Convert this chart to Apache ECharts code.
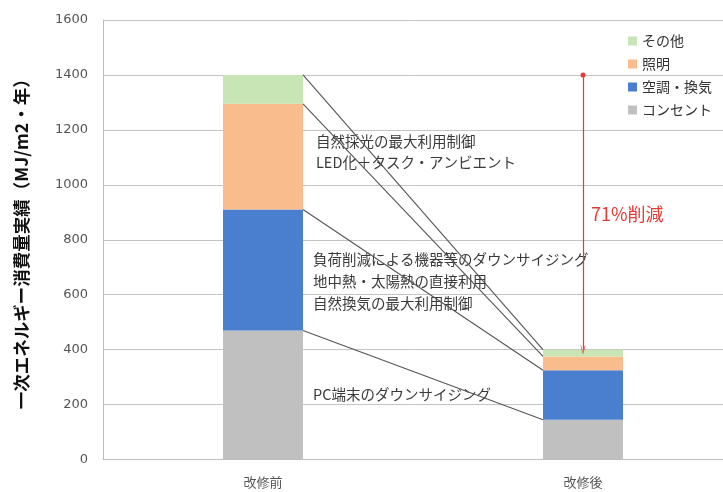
<!DOCTYPE html>
<html>
<head>
<meta charset="utf-8">
<script src="https://cdn.jsdelivr.net/npm/echarts@6/dist/echarts.min.js"></script>
<style>
  html, body { margin: 0; padding: 0; background: #fff; }
  #chart { width: 723px; height: 492px; }
</style>
</head>
<body>
<div id="chart"></div>
<script>
// 改修前後の一次エネルギー消費量（MJ/m2・年）
const categories = ['改修前', '改修後'];
const seriesNames = ['コンセント', '空調・換気', '照明', 'その他'];
const outlet = [470, 145];
const hvac = [440, 180];
const lighting = [385, 50];
const others = [105, 25];
const yTicks = { min: 0, max: 1600, interval: 200 };

const measures = [
  { text: '自然採光の最大利用制御', x: 316, y: 143 },
  { text: 'LED化＋タスク・アンビエント', x: 316, y: 164 },
  { text: '負荷削減による機器等のダウンサイジング', x: 313, y: 261 },
  { text: '地中熱・太陽熱の直接利用', x: 313, y: 283 },
  { text: '自然換気の最大利用制御', x: 313, y: 305 },
  { text: 'PC端末のダウンサイジング', x: 313, y: 396 }
];

const colors = ['#c0c0c0', '#4a7fd0', '#f9bd8d', '#c8e5b6'];
const values = [outlet, hvac, lighting, others];

// 各区分の累積上端（接続線用）
const tops = values.map((_, k) =>
  categories.map((_, i) => values.slice(0, k + 1).reduce((s, arr) => s + arr[i], 0))
);
const totalBefore = tops[3][0];
const totalAfter = tops[3][1];
const reduction = Math.round((1 - totalAfter / totalBefore) * 100);

const jpFont = '"Noto Sans CJK JP", sans-serif';
const BAR_RATIO = 0.25;

const chart = echarts.init(document.getElementById('chart'), null, { renderer: 'canvas' });

const barSeries = seriesNames.map((name, k) => ({
  name,
  type: 'bar',
  stack: 'total',
  barWidth: (BAR_RATIO * 100) + '%',
  itemStyle: { color: colors[k] },
  data: values[k],
  z: 2
}));

const connectorSeries = {
  type: 'custom',
  name: 'connector',
  data: tops.map(t => [t[0], t[1]]),
  z: 4,
  silent: true,
  renderItem: function (params, api) {
    const p1 = api.coord([0, api.value(0)]);
    const p2 = api.coord([1, api.value(1)]);
    const half = api.size([1, 0])[0] * BAR_RATIO / 2;
    return {
      type: 'line',
      shape: { x1: p1[0] + half, y1: p1[1], x2: p2[0] - half, y2: p2[1] },
      style: { stroke: '#555', lineWidth: 1.1 }
    };
  },
  markLine: {
    silent: true,
    symbol: ['circle', 'path://M5,0 L10,7 L9,7.6 L5,1.8 L1,7.6 L0,7 Z'],
    symbolSize: [5, 9],
    lineStyle: { color: '#e43a36', width: 1.2, type: 'solid' },
    label: { show: false },
    data: [[{ coord: [1, totalBefore] }, { coord: [1, totalAfter] }]]
  }
};

chart.setOption({
  animation: false,
  backgroundColor: '#fff',
  // プロット領域は右端で切れるように、コンテナより広く取る
  grid: { left: 103, top: 20, height: 439.5, width: 640, outerBoundsMode: 'none', containLabel: false },
  legend: {
    orient: 'vertical',
    left: 623,
    top: 29,
    data: ['その他', '照明', '空調・換気', 'コンセント'],
    itemWidth: 9,
    itemHeight: 9,
    itemGap: 9,
    icon: 'rect',
    textStyle: { fontFamily: jpFont, fontSize: 14, color: '#333' }
  },
  xAxis: {
    type: 'category',
    data: categories,
    axisLine: { lineStyle: { color: '#bdbdbd', width: 1 } },
    axisTick: { show: false },
    axisLabel: { margin: 16, fontFamily: jpFont, fontSize: 13, color: '#555' }
  },
  yAxis: {
    type: 'value',
    min: yTicks.min,
    max: yTicks.max,
    interval: yTicks.interval,
    name: '一次エネルギー消費量実績（MJ/m2・年）',
    nameLocation: 'middle',
    nameGap: 73,
    nameTextStyle: { fontFamily: jpFont, fontSize: 17.5, fontWeight: 'bold', color: '#111' },
    axisLine: { show: true, lineStyle: { color: '#bdbdbd', width: 1 } },
    axisTick: { show: false },
    axisLabel: {
      margin: 15,
      fontFamily: '"DejaVu Sans", sans-serif',
      fontSize: 13,
      color: '#555',
      formatter: v => String(v)
    },
    splitLine: { lineStyle: { color: '#c4c4c4', width: 1 } }
  },
  graphic: measures.map(m => ({
    type: 'text',
    left: m.x,
    top: m.y - 9,
    z: 3,
    style: { text: m.text, font: '14.5px ' + jpFont, fill: '#3a3a3a' }
  })).concat([{
    type: 'text',
    left: 591,
    top: 205,
    z: 5,
    style: { text: reduction + '%削減', font: '18px ' + jpFont, fill: '#e43a36' }
  }]),
  series: barSeries.concat([connectorSeries])
});
</script>
</body>
</html>
